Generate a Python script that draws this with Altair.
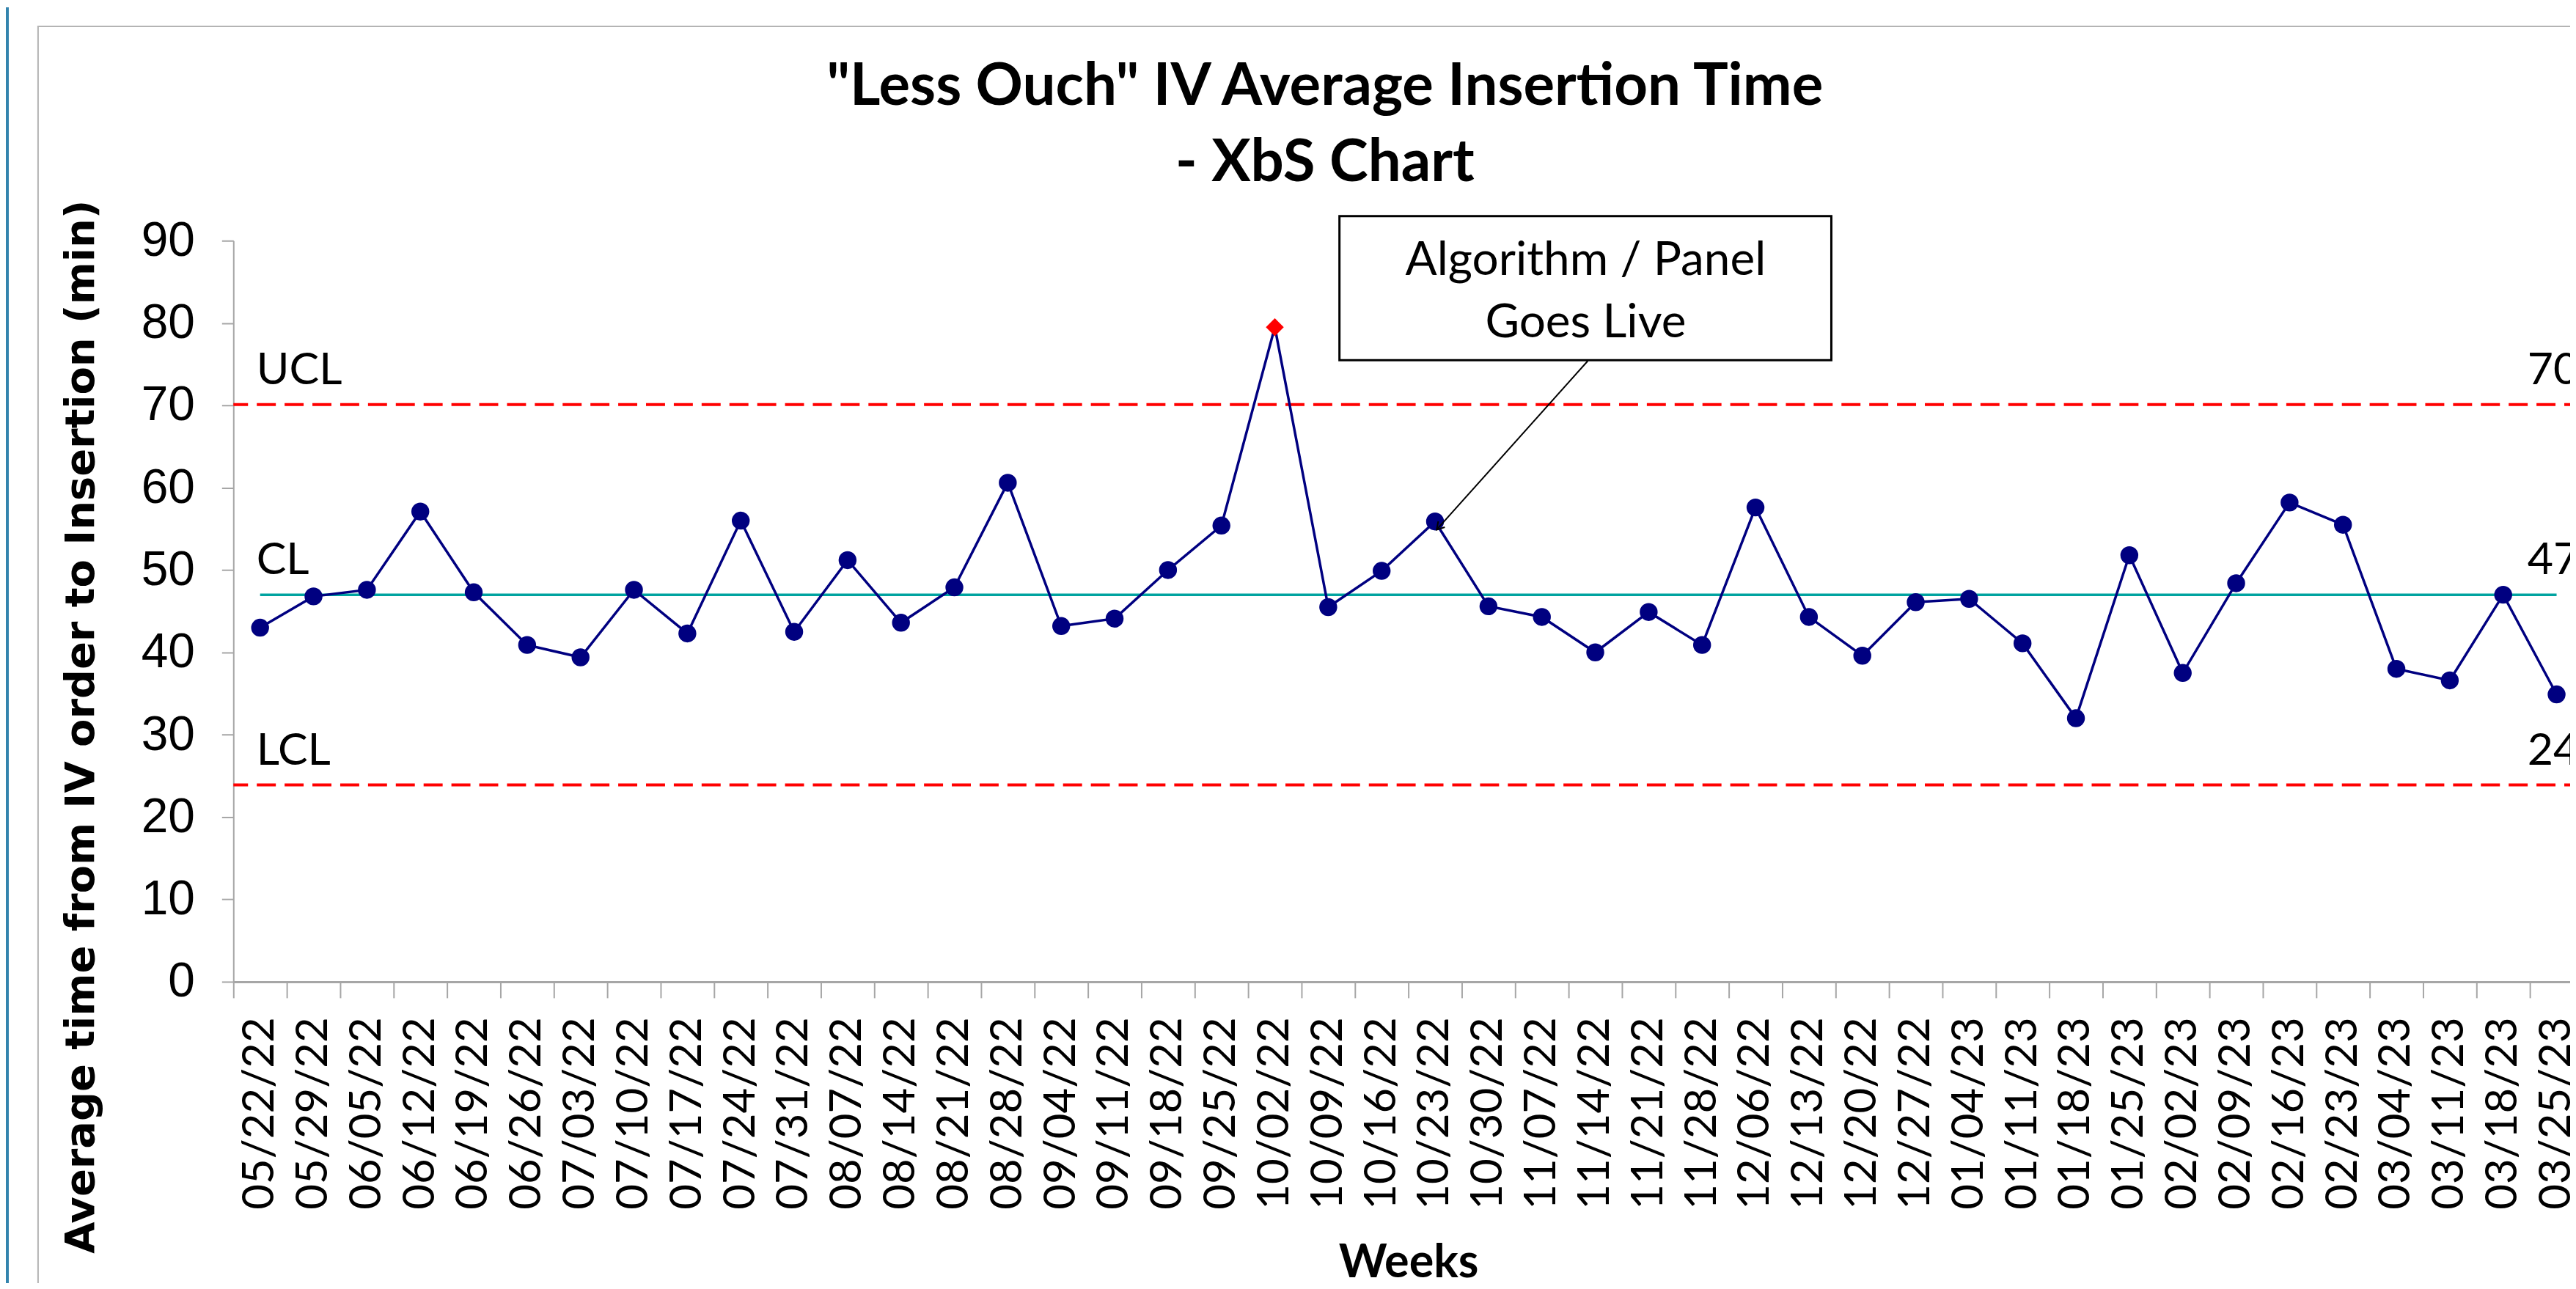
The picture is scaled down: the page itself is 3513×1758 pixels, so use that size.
import altair as alt
import pandas as pd

WEEKS = ["05/22/22", "05/29/22", "06/05/22", "06/12/22", "06/19/22", "06/26/22",
         "07/03/22", "07/10/22", "07/17/22", "07/24/22", "07/31/22", "08/07/22",
         "08/14/22", "08/21/22", "08/28/22", "09/04/22", "09/11/22", "09/18/22",
         "09/25/22", "10/02/22", "10/09/22", "10/16/22", "10/23/22", "10/30/22",
         "11/07/22", "11/14/22", "11/21/22", "11/28/22", "12/06/22", "12/13/22",
         "12/20/22", "12/27/22", "01/04/23", "01/11/23", "01/18/23", "01/25/23",
         "02/02/23", "02/09/23", "02/16/23", "02/23/23", "03/04/23", "03/11/23",
         "03/18/23", "03/25/23"]
VALUES = [43.0, 46.8, 47.6, 57.1, 47.3, 40.9, 39.4, 47.6, 42.3, 56.0, 42.5, 51.2,
          43.6, 47.9, 60.6, 43.2, 44.1, 50.0, 55.4, 79.5, 45.5, 49.9, 55.9, 45.6,
          44.3, 40.0, 44.9, 40.9, 57.6, 44.3, 39.6, 46.1, 46.5, 41.1, 32.0, 51.8,
          37.5, 48.4, 58.2, 55.5, 38.0, 36.6, 47.0, 34.9]
UCL, CL, LCL = 70.1, 47.0, 23.9
LIMIT_NAMES = ["UCL", "CL", "LCL"]
Y_TICKS = [0, 10, 20, 30, 40, 50, 60, 70, 80, 90]

TITLE = ['"Less Ouch" IV Average Insertion Time', "- XbS Chart"]
Y_TITLE = "Average time from IV order to Insertion (min)"
X_TITLE = "Weeks"

ANNOT_LINES = ["Algorithm / Panel", "Goes Live"]
ANNOT_LINE_Y = [85.8, 78.3]
ANNOT_CENTER_X = 25.32
ANNOT_BOX = {"x0": 20.71, "x1": 29.92, "y0": 92.98, "y1": 75.49}
LEADER = {"x0": 25.36, "y0": 75.4, "x1": 22.53, "y1": 54.9}

status = ["out" if (v > UCL or v < LCL) else "in" for v in VALUES]
df = pd.DataFrame({"week": WEEKS, "value": VALUES, "status": status, "cl": CL})
limits_df = pd.DataFrame({"limit": [UCL, LCL]})
left_lab = pd.DataFrame({"week": [WEEKS[0]] * 3, "v": [UCL, CL, LCL], "txt": LIMIT_NAMES})
right_lab = pd.DataFrame({"week": [WEEKS[-1]] * 3, "v": [UCL, CL, LCL],
                          "txt": [str(round(v)) for v in (UCL, CL, LCL)]})
annot_text = pd.DataFrame({"ax": [ANNOT_CENTER_X] * 2, "ay": ANNOT_LINE_Y, "txt": ANNOT_LINES})
box_df = pd.DataFrame([ANNOT_BOX])
leader_df = pd.DataFrame([LEADER])

W, H = 3212, 1013

xscale = alt.Scale(type="band", domain=WEEKS, paddingInner=0, paddingOuter=0)
yscale = alt.Scale(domain=[0, 90], nice=False, zero=True)
ascale = alt.Scale(domain=[0, len(WEEKS)], nice=False, zero=False)

x_axis = alt.Axis(title=X_TITLE, labelAngle=-90, labelFont="Lato", labelFontSize=60,
                  labelColor="black", labelPadding=26, labelOverlap=False, labelLimit=600,
                  tickBand="extent", tickSize=22, tickColor="#A6A6A6", tickWidth=2,
                  domainColor="#A6A6A6", domainWidth=3, grid=False,
                  titleFont="Lato", titleFontWeight="bold", titleFontSize=63,
                  titleColor="black", titleBaseline="alphabetic", titleY=403)
y_axis = alt.Axis(title=Y_TITLE, values=Y_TICKS, labelFont="Liberation Sans",
                  labelFontSize=66, labelColor="black", labelPadding=37,
                  tickSize=16, tickColor="#A6A6A6", tickWidth=2,
                  domainColor="#A6A6A6", domainWidth=2, grid=False,
                  titleFont="DejaVu Sans", titleFontWeight="bold", titleFontSize=56,
                  titleColor="black", titleAngle=270, titleAlign="center",
                  titleBaseline="alphabetic", titleX=-191, titleY=664, titleLimit=3000)


def X(field):
    return alt.X(field, scale=xscale, axis=x_axis)


def Y(field):
    return alt.Y(field, scale=yscale, axis=y_axis)


def AX(field):
    return alt.X(field, scale=ascale, axis=None)


frame = alt.Chart(alt.Data(values=[{}])).mark_rect(
    filled=False, stroke="#B4B4B4", strokeWidth=2).encode(
    x=alt.value(-267), x2=alt.value(4000), y=alt.value(-293), y2=alt.value(2000))
strip = alt.Chart(alt.Data(values=[{}])).mark_rect(color="#3384AE").encode(
    x=alt.value(-311), x2=alt.value(-307), y=alt.value(-319), y2=alt.value(1500))

limits = alt.Chart(limits_df).mark_rule(color="#FF0000", strokeWidth=4,
                                        strokeDash=[26, 12]).encode(y=Y("limit:Q"))
cl_line = alt.Chart(df).mark_line(color="#00A3A0", strokeWidth=3.5).encode(
    x=X("week:N"), y=Y("cl:Q"))
series = alt.Chart(df).mark_line(color="#000080", strokeWidth=3.5).encode(
    x=X("week:N"), y=Y("value:Q"))
points = alt.Chart(df).mark_point(filled=True, opacity=1, size=600).encode(
    x=X("week:N"), y=Y("value:Q"),
    color=alt.Color("status:N", scale=alt.Scale(domain=["in", "out"],
                                                range=["#000080", "#FF0000"]), legend=None),
    shape=alt.Shape("status:N", scale=alt.Scale(domain=["in", "out"],
                                                range=["circle", "diamond"]), legend=None))
left_text = alt.Chart(left_lab).mark_text(
    align="left", baseline="alphabetic", dx=-5, dy=-28, font="Lato", fontSize=61,
    color="black").encode(x=X("week:N"), y=Y("v:Q"), text="txt:N")
right_text = alt.Chart(right_lab).mark_text(
    align="left", baseline="alphabetic", dx=-40, dy=-28, font="Lato", fontSize=61,
    color="black").encode(x=X("week:N"), y=Y("v:Q"), text="txt:N")

box = alt.Chart(box_df).mark_rect(fill="white", stroke="black", strokeWidth=3).encode(
    x=AX("x0:Q"), x2="x1:Q", y=Y("y0:Q"), y2="y1:Q")
box_text = alt.Chart(annot_text).mark_text(
    align="center", baseline="alphabetic", font="Lato", fontSize=64, color="black").encode(
    x=AX("ax:Q"), y=Y("ay:Q"), text="txt:N")
leader = alt.Chart(leader_df).mark_rule(color="black", strokeWidth=2).encode(
    x=AX("x0:Q"), x2="x1:Q", y=Y("y0:Q"), y2="y1:Q")
arrow = alt.Chart(leader_df).mark_point(
    shape="M-0.6,-1L0,0L0.6,-1", angle=41.7, size=400, filled=False,
    stroke="black", strokeWidth=2, opacity=1).encode(x=AX("x1:Q"), y=Y("y1:Q"))

main = alt.layer(frame, strip, limits, cl_line, series, points, left_text, right_text)
annot = alt.layer(leader, arrow, box, box_text)

chart = alt.layer(main, annot).resolve_scale(x="independent").properties(
    width=W, height=H,
    title=alt.TitleParams(text=TITLE, font="Lato", fontSize=80, fontWeight="bold",
                          color="black", lineHeight=105, anchor="middle", frame="group",
                          baseline="alphabetic", offset=-318, dx=-114, limit=3000),
    padding={"left": 311, "top": 319, "right": -18, "bottom": 410},
    autosize=alt.AutoSizeParams(type="none"),
    background="white",
).configure_view(stroke=None)

chart.save("out.html", embed_options={"renderer": "svg", "actions": False})
